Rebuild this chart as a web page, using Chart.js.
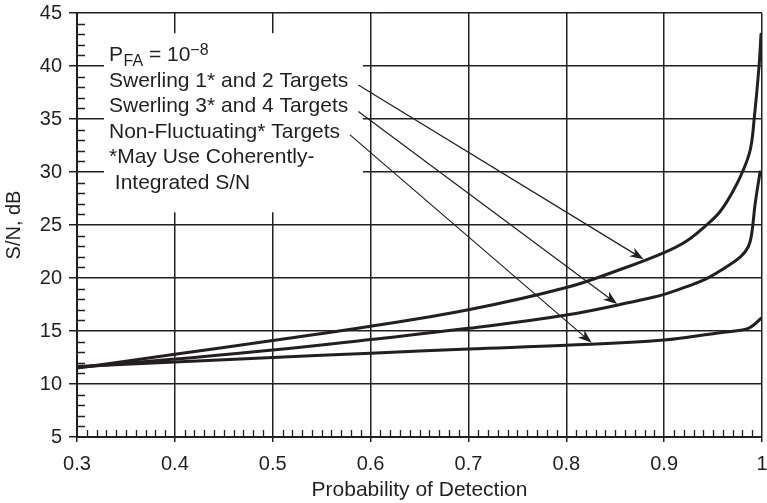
<!DOCTYPE html>
<html><head><meta charset="utf-8">
<style>html,body{margin:0;padding:0;background:#fff}#wrap{width:767px;height:503px}</style>
<script src="https://cdn.jsdelivr.net/npm/chart.js@4"></script>
</head><body><div id="wrap"><canvas id="c" width="767" height="503"></canvas></div>
<script>
// ---- data ----
const pdSw12 = [0.3, 0.4, 0.5, 0.6, 0.7, 0.8, 0.855, 0.9, 0.923, 0.942, 0.957, 0.971, 0.98, 0.988, 0.992, 0.997, 0.999];
const snSw12 = [11.5, 12.8, 14.1, 15.45, 17.0, 19.1, 20.8, 22.4, 23.5, 24.9, 26.25, 28.3, 30.0, 32.1, 35.0, 40.0, 43.0];
const pdSw34 = [0.3, 0.4, 0.5, 0.6, 0.7, 0.8, 0.875, 0.9, 0.923, 0.944, 0.961, 0.978, 0.986, 0.9895, 0.993, 0.998];
const snSw34 = [11.55, 12.35, 13.2, 14.2, 15.25, 16.5, 17.9, 18.46, 19.18, 19.97, 20.9, 22.0, 22.95, 24.2, 27.0, 30.0];
const pdNF = [0.3, 0.4, 0.5, 0.6, 0.7, 0.8, 0.9, 0.95, 0.978, 0.986, 0.992, 0.999];
const snNF = [11.65, 12.07, 12.5, 12.9, 13.3, 13.65, 14.15, 14.75, 15.07, 15.25, 15.6, 16.2];

const xTickValues = [0.3, 0.4, 0.5, 0.6, 0.7, 0.8, 0.9, 1.0];
const xTickLabels = ['0.3', '0.4', '0.5', '0.6', '0.7', '0.8', '0.9', '1'];
const yTickValues = [5, 10, 15, 20, 25, 30, 35, 40, 45];
const yTickLabels = ['5', '10', '15', '20', '25', '30', '35', '40', '45'];

const noteLines = ['Swerling 1* and 2 Targets', 'Swerling 3* and 4 Targets', 'Non-Fluctuating* Targets', '*May Use Coherently-', ' Integrated S/N'];
// arrows: [startPd, startSN, tipPd, tipSN]
const arrowSw12 = [0.5875, 38.2, 0.879, 21.76];
const arrowSw34 = [0.5875, 35.7, 0.852, 17.55];
const arrowNF = [0.579, 33.5, 0.826, 13.88];
const noteBox = [0.3276, 43.1, 0.5923, 26.2];
const noteAnchor = [0.3327, 40.47];

const INK = '#231f20';
const FONT = "'Liberation Sans', Arial, Helvetica, sans-serif";

function pts(xs, ys) { return xs.map((x, i) => ({x: x, y: ys[i]})); }

const annot = {
  id: 'annot',
  beforeDatasetsDraw(chart) {
    const {ctx, scales: {x, y}} = chart;
    ctx.save();
    ctx.fillStyle = '#fff';
    const x0 = x.getPixelForValue(noteBox[0]), y0 = y.getPixelForValue(noteBox[1]);
    const x1 = x.getPixelForValue(noteBox[2]), y1 = y.getPixelForValue(noteBox[3]);
    ctx.fillRect(x0, y0, x1 - x0, y1 - y0);
    ctx.restore();
  },
  afterDatasetsDraw(chart) {
    const {ctx, scales: {x, y}, chartArea} = chart;
    ctx.save();
    // minor ticks
    ctx.strokeStyle = INK; ctx.lineWidth = 1.3;
    ctx.beginPath();
    for (let v = 5; v <= 45; v++) {
      if (v % 5 === 0) continue;
      const py = Math.round(y.getPixelForValue(v)) + 0.5;
      ctx.moveTo(chartArea.left, py); ctx.lineTo(chartArea.left + 8, py);
    }
    for (let k = 30; k <= 100; k++) {
      if (k % 10 === 0) continue;
      const px = Math.round(x.getPixelForValue(k / 100)) + 0.5;
      ctx.moveTo(px, chartArea.bottom); ctx.lineTo(px, chartArea.bottom - 7);
    }
    ctx.stroke();

    // text
    ctx.fillStyle = INK;
    ctx.textBaseline = 'alphabetic';
    ctx.textAlign = 'left';
    const tx = x.getPixelForValue(noteAnchor[0]);
    const ty = y.getPixelForValue(noteAnchor[1]);
    let cx = tx;
    ctx.font = '21px ' + FONT; ctx.fillText('P', cx, ty); cx += ctx.measureText('P').width + 0.5;
    ctx.font = '16px ' + FONT; ctx.fillText('FA', cx, ty + 4.5); cx += ctx.measureText('FA').width;
    ctx.font = '21px ' + FONT; ctx.fillText(' = 10', cx, ty); cx += ctx.measureText(' = 10').width;
    ctx.font = '16px ' + FONT; ctx.fillText('\u22128', cx, ty - 6);
    ctx.font = '21px ' + FONT;
    noteLines.forEach((t, i) => ctx.fillText(t, tx, ty + 25.5 * (i + 1)));

    // arrows
    [arrowSw12, arrowSw34, arrowNF].forEach(a => {
      const sx = x.getPixelForValue(a[0]), sy = y.getPixelForValue(a[1]);
      const ex = x.getPixelForValue(a[2]), ey = y.getPixelForValue(a[3]);
      const ang = Math.atan2(ey - sy, ex - sx);
      const L = 14, W = 5, N = 10;
      ctx.strokeStyle = INK; ctx.lineWidth = 1.2;
      ctx.beginPath(); ctx.moveTo(sx, sy);
      ctx.lineTo(ex - N * Math.cos(ang), ey - N * Math.sin(ang)); ctx.stroke();
      const c = Math.cos(ang), s = Math.sin(ang);
      const bx = ex - L * c, by = ey - L * s;
      ctx.beginPath();
      ctx.moveTo(ex, ey);
      ctx.lineTo(bx - W * s, by + W * c);
      ctx.lineTo(ex - N * c, ey - N * s);
      ctx.lineTo(bx + W * s, by - W * c);
      ctx.closePath(); ctx.fill();
    });
    ctx.restore();
  }
};

const lineStyle = {borderColor: INK, borderWidth: 3, pointRadius: 0, fill: false, tension: 0.4, borderJoinStyle: 'round', borderCapStyle: 'round'};

new Chart(document.getElementById('c'), {
  type: 'line',
  data: {
    datasets: [
      Object.assign({label: 'Swerling 1 and 2', data: pts(pdSw12, snSw12)}, lineStyle),
      Object.assign({label: 'Swerling 3 and 4', data: pts(pdSw34, snSw34)}, lineStyle),
      Object.assign({label: 'Non-Fluctuating', data: pts(pdNF, snNF)}, lineStyle)
    ]
  },
  options: {
    responsive: false,
    devicePixelRatio: 1,
    animation: false,
    layout: {padding: {left: 0, top: 13, right: 5, bottom: 0}},
    plugins: {legend: {display: false}, tooltip: {enabled: false}},
    scales: {
      x: {
        type: 'linear', min: 0.3, max: 1,
        afterBuildTicks: s => { s.ticks = xTickValues.map(v => ({value: v})); },
        afterFit: s => { s.height = 66; s.paddingLeft = 0; s.paddingRight = 0; },
        ticks: {callback: (v, i) => xTickLabels[i], font: {size: 20, family: FONT}, color: INK, padding: 10, maxRotation: 0, autoSkip: false},
        grid: {color: INK, lineWidth: 1.5, tickLength: 5, drawTicks: true},
        border: {color: INK, width: 2},
        title: {display: true, text: 'Probability of Detection', font: {size: 21, family: FONT}, color: INK, padding: {top: 0, bottom: 0}}
      },
      y: {
        type: 'linear', min: 5, max: 45,
        afterBuildTicks: s => { s.ticks = yTickValues.map(v => ({value: v})); },
        afterFit: s => { s.width = 77; s.paddingTop = 0; s.paddingBottom = 0; },
        ticks: {callback: (v, i) => yTickLabels[i], font: {size: 20, family: FONT}, color: INK, padding: 7, autoSkip: false},
        grid: {color: INK, lineWidth: 1.5, tickLength: 8, drawTicks: true},
        border: {color: INK, width: 2},
        title: {display: true, text: 'S/N, dB', font: {size: 20, family: FONT}, color: INK, padding: {top: 2, bottom: 0}}
      }
    }
  },
  plugins: [annot]
});
</script></body></html>
